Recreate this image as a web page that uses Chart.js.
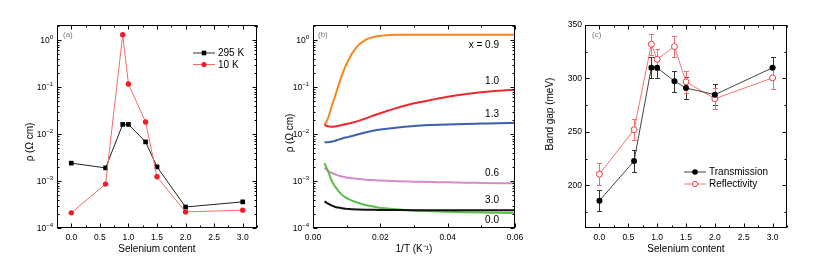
<!DOCTYPE html>
<html>
<head>
<meta charset="utf-8">
<script src="https://cdn.jsdelivr.net/npm/chart.js@4.4.0/dist/chart.umd.min.js"></script>
<style>
  html, body { margin: 0; padding: 0; background: #fff; }
  #fig { position: relative; width: 830px; height: 269px; }
  canvas { position: absolute; top: 0; }
</style>
</head>
<body>
<div id="fig">
  <canvas id="ca" width="278" height="269" style="left:0"></canvas>
  <canvas id="cb" width="262" height="269" style="left:278px"></canvas>
  <canvas id="cc" width="290" height="269" style="left:540px"></canvas>
</div>
<script>
// Dados
const selenio = [0, 0.6, 0.9, 1.0, 1.3, 1.5, 2.0, 3.0];
const rho295 = [2.4e-3, 1.9e-3, 1.6e-2, 1.6e-2, 6.8e-3, 2.0e-3, 2.8e-4, 3.6e-4];
const rho10 = [2.1e-4, 8.6e-4, 1.3, 0.116, 0.018, 1.23e-3, 2.2e-4, 2.4e-4];

// painel (b): rho vs 1/T
const invT = [0.0034, 0.0045, 0.0056, 0.0066, 0.0076, 0.0086, 0.0096, 0.0106, 0.0116, 0.0135, 0.0155,
  0.0175, 0.0195, 0.022, 0.025, 0.03, 0.035, 0.04, 0.045, 0.05, 0.055, 0.06];
const rhoX09 = [0.0155, 0.022, 0.040, 0.065, 0.11, 0.18, 0.27, 0.38, 0.52, 0.78, 1.0,
  1.14, 1.22, 1.27, 1.29, 1.3, 1.3, 1.3, 1.3, 1.3, 1.3, 1.3];
const rhoX10 = [0.0155, 0.0147, 0.0143, 0.0145, 0.0150, 0.0156, 0.0162, 0.0168, 0.0174, 0.019, 0.0213,
  0.024, 0.027, 0.031, 0.036, 0.045, 0.053, 0.062, 0.070, 0.077, 0.083, 0.088];
const rhoX13 = [0.0067, 0.0067, 0.0069, 0.0072, 0.0076, 0.0080, 0.0084, 0.0087, 0.0091, 0.0099, 0.0108,
  0.0116, 0.0123, 0.0130, 0.0137, 0.0148, 0.0155, 0.0160, 0.0164, 0.0167, 0.0170, 0.0172];
const rhoX06 = [0.0019, 0.00165, 0.00148, 0.00138, 0.0013, 0.00125, 0.0012, 0.00117, 0.00114, 0.0011, 0.00107,
  0.00105, 0.00103, 0.00101, 0.00099, 0.00097, 0.00095, 0.00094, 0.00092, 0.00091, 0.0009, 0.00089];
const rhoX00 = [0.0024, 0.0016, 0.0010, 0.00076, 0.00061, 0.00051, 0.00045, 0.00041, 0.00038, 0.00034, 0.00031,
  0.00029, 0.00027, 0.00026, 0.00025, 0.000235, 0.000228, 0.000222, 0.000217, 0.000213, 0.00021, 0.000207];
const rhoX30 = [0.00037, 0.00033, 0.00030, 0.00028, 0.000272, 0.000264, 0.000258, 0.000254, 0.00025, 0.000247, 0.000245,
  0.000244, 0.000243, 0.000242, 0.000241, 0.00024, 0.00024, 0.00024, 0.00024, 0.00024, 0.00024, 0.00024];

// painel (c): band gap
const gapTrans = [185.5, 222.7, 310, 310, 297.4, 291, 284.8, 310];
const gapRefl = [210.4, 252, 332, 317.9, 329.8, 296.8, 281, 300.5];
const gapErro = 10;

// ticks
const ticksSel = [0, 0.5, 1.0, 1.5, 2.0, 2.5, 3.0];
const ticksInvT = [0, 0.02, 0.04, 0.06];
const ticksGap = [200, 250, 300, 350];
const expoentes = [0, -1, -2, -3, -4];

const FONTE = '"Liberation Sans", Arial, sans-serif';
Chart.defaults.font.family = FONTE;
Chart.defaults.color = '#000';

function pontos(xs, ys) {
  return xs.map((x, i) => ({ x: x, y: ys[i] }));
}

function minorLog(min, max) {
  const v = [];
  for (let e = -5; e <= 1; e++) {
    for (let m = 1; m <= 9; m++) {
      const val = m * Math.pow(10, e);
      if (val >= min && val <= max) v.push({ v: val, major: m === 1 });
    }
  }
  return v;
}

function minorLin(min, max, passo, major) {
  const v = [];
  const n0 = Math.ceil(min / passo - 1e-9), n1 = Math.floor(max / passo + 1e-9);
  for (let n = n0; n <= n1; n++) {
    const val = n * passo;
    v.push({ v: val, major: Math.abs(val / major - Math.round(val / major)) < 1e-6 });
  }
  return v;
}

// moldura, ticks para dentro, legendas e textos
const moldura = {
  id: 'moldura',
  afterDatasetsDraw(chart, args, opts) {
    const ctx = chart.ctx, a = chart.chartArea, sx = chart.scales.x, sy = chart.scales.y;
    ctx.save();
    ctx.strokeStyle = '#000';
    ctx.lineWidth = 1;
    const L = Math.round(a.left) + 0.5, R = Math.round(a.right) - 0.5;
    const T = Math.round(a.top) + 0.5, B = Math.round(a.bottom) - 0.5;
    ctx.strokeRect(L, T, R - L, B - T);
    ctx.beginPath();
    opts.xt.forEach(t => {
      const p = Math.round(sx.getPixelForValue(t.v)) + 0.5;
      const len = t.major ? 4 : 2;
      ctx.moveTo(p, B); ctx.lineTo(p, B - len);
      ctx.moveTo(p, T); ctx.lineTo(p, T + len);
    });
    opts.yt.forEach(t => {
      const p = Math.round(sy.getPixelForValue(t.v)) + 0.5;
      const len = t.major ? 4 : 2;
      ctx.moveTo(L, p); ctx.lineTo(L + len, p);
      ctx.moveTo(R, p); ctx.lineTo(R - len, p);
    });
    ctx.stroke();

    // rótulos log
    if (opts.logLabels) {
      ctx.fillStyle = '#000';
      ctx.textBaseline = 'middle';
      opts.logLabels.forEach(e => {
        const p = sy.getPixelForValue(Math.pow(10, e));
        ctx.font = '6px ' + FONTE;
        ctx.textAlign = 'right';
        const ex = String(e).replace('-', '\u2212');
        const wEx = ctx.measureText(ex).width;
        ctx.fillText(ex, a.left - 4, p - 3);
        ctx.font = '8.5px ' + FONTE;
        ctx.fillText('10', a.left - 4 - wEx, p + 1);
      });
    }

    // título do eixo y (rodado)
    if (opts.tituloY) {
      const t = opts.tituloY;
      ctx.save();
      ctx.translate(t.x, t.y);
      ctx.rotate(-Math.PI / 2);
      ctx.font = '10px ' + FONTE;
      ctx.fillStyle = '#000';
      ctx.textAlign = 'center';
      ctx.textBaseline = 'middle';
      ctx.fillText(t.text, 0, 0);
      ctx.restore();
    }

    // textos
    (opts.textos || []).forEach(t => {
      ctx.font = (t.size || 10) + 'px ' + FONTE;
      ctx.fillStyle = t.color || '#000';
      ctx.textAlign = t.align || 'left';
      ctx.textBaseline = 'middle';
      ctx.fillText(t.text, t.x, t.y);
    });

    // legenda
    (opts.legenda || []).forEach(l => {
      ctx.strokeStyle = l.line;
      ctx.lineWidth = 1;
      ctx.beginPath();
      ctx.moveTo(l.x, l.y); ctx.lineTo(l.x + 22, l.y);
      ctx.stroke();
      const mx = l.x + 11;
      ctx.beginPath();
      if (l.marker === 'rect') {
        ctx.rect(mx - 2.3, l.y - 2.3, 4.6, 4.6);
      } else {
        ctx.arc(mx, l.y, l.r || 2.6, 0, Math.PI * 2);
      }
      ctx.fillStyle = l.fill;
      ctx.fill();
      if (l.stroke) { ctx.strokeStyle = l.stroke; ctx.stroke(); }
      ctx.font = '10px ' + FONTE;
      ctx.fillStyle = '#000';
      ctx.textAlign = 'left';
      ctx.textBaseline = 'middle';
      ctx.fillText(l.label, l.x + 25, l.y + 0.5);
    });
    ctx.restore();
  }
};

// barras de erro do painel (c)
const barrasErro = {
  id: 'barrasErro',
  beforeDatasetsDraw(chart, args, opts) {
    if (!opts.series) return;
    const ctx = chart.ctx, sx = chart.scales.x, sy = chart.scales.y;
    ctx.save();
    ctx.lineWidth = 1;
    opts.series.forEach(s => {
      ctx.strokeStyle = s.color;
      ctx.beginPath();
      s.x.forEach((xv, i) => {
        const px = Math.round(sx.getPixelForValue(xv)) + 0.5;
        const y1 = Math.round(sy.getPixelForValue(s.y[i] - s.err)) + 0.5;
        const y2 = Math.round(sy.getPixelForValue(s.y[i] + s.err)) + 0.5;
        ctx.moveTo(px, y1); ctx.lineTo(px, y2);
        ctx.moveTo(px - 2.5, y1); ctx.lineTo(px + 2.5, y1);
        ctx.moveTo(px - 2.5, y2); ctx.lineTo(px + 2.5, y2);
      });
      ctx.stroke();
    });
    ctx.restore();
  }
};

function eixoX(min, max, ticks, casas, titulo) {
  return {
    type: 'linear', min: min, max: max,
    afterBuildTicks: s => { s.ticks = ticks.map(v => ({ value: v })); },
    afterFit: s => { s.height = 41; },
    grid: { display: false, drawTicks: false },
    border: { display: false },
    ticks: { font: { size: 8.5 }, padding: 5, maxRotation: 0, autoSkip: false,
      callback: v => Number(v).toFixed(casas) },
    title: { display: true, text: titulo, font: { size: 10 }, padding: { top: 0, bottom: 14 } }
  };
}

function eixoYLog(largura) {
  return {
    type: 'logarithmic', min: 1e-4, max: Math.pow(10, 0.32),
    afterFit: s => { s.width = largura; },
    grid: { display: false, drawTicks: false }, border: { display: false },
    ticks: { display: false }
  };
}

function criarGrafico(id, direita, datasets, escalas, plugOpts) {
  return new Chart(document.getElementById(id), {
    type: 'scatter',
    data: { datasets: datasets },
    options: {
      responsive: false,
      animation: false,
      devicePixelRatio: 1,
      layout: { padding: { left: 0, top: 25, right: direita, bottom: 0 } },
      scales: escalas,
      plugins: Object.assign({ legend: { display: false }, tooltip: { enabled: false } }, plugOpts)
    },
    plugins: [barrasErro, moldura]
  });
}

const yLogMax = Math.pow(10, 0.32);

// painel (a)
criarGrafico('ca', 21, [
  { data: pontos(selenio, rho10), showLine: true, borderColor: '#f26b6b', borderWidth: 1,
    pointRadius: 2.7, pointBackgroundColor: '#ee1c25', pointBorderWidth: 0 },
  { data: pontos(selenio, rho295), showLine: true, borderColor: '#222', borderWidth: 1,
    pointStyle: 'rect', pointRadius: 3.3, pointBackgroundColor: '#000', pointBorderWidth: 0 }
], {
  x: eixoX(-0.25, 3.25, ticksSel, 1, 'Selenium content'),
  y: eixoYLog(57)
}, {
  moldura: {
    xt: minorLin(-0.25, 3.25, 0.25, 0.5), yt: minorLog(1e-4, yLogMax), logLabels: expoentes,
    tituloY: { text: 'ρ (Ω cm)', x: 30, y: 142 },
    textos: [{ text: '(a)', x: 63, y: 35, size: 8, color: '#777' }],
    legenda: [
      { x: 193, y: 53, label: '295 K', line: '#333', marker: 'rect', fill: '#000' },
      { x: 193, y: 64.5, label: '10 K', line: '#f26b6b', marker: 'circle', fill: '#ee1c25' }
    ]
  }
});

// painel (b)
const curvaB = (ys, cor) => ({ data: pontos(invT, ys), showLine: true, borderColor: cor, borderWidth: 2,
  pointRadius: 0, cubicInterpolationMode: 'monotone' });
criarGrafico('cb', 25, [
  curvaB(rhoX30, '#111111'),
  curvaB(rhoX00, '#5cbf4a'),
  curvaB(rhoX06, '#d68bc9'),
  curvaB(rhoX13, '#3f5fb0'),
  curvaB(rhoX10, '#ea2a2f'),
  curvaB(rhoX09, '#f7861e')
], {
  x: eixoX(0, 0.06, ticksInvT, 2, '1/T (K\u207B\u00B9)'),
  y: eixoYLog(35)
}, {
  moldura: {
    xt: minorLin(0, 0.06, 0.01, 0.02), yt: minorLog(1e-4, yLogMax), logLabels: expoentes,
    tituloY: { text: 'ρ (Ω cm)', x: 12, y: 133 },
    textos: [
      { text: '(b)', x: 40, y: 35, size: 8, color: '#777' },
      { text: 'x = 0.9', x: 221, y: 45, align: 'right' },
      { text: '1.0', x: 221, y: 81, align: 'right' },
      { text: '1.3', x: 221, y: 114, align: 'right' },
      { text: '0.6', x: 221, y: 173, align: 'right' },
      { text: '3.0', x: 221, y: 200, align: 'right' },
      { text: '0.0', x: 221, y: 220, align: 'right' }
    ]
  }
});

// painel (c)
criarGrafico('cc', 43, [
  { data: pontos(selenio, gapTrans), showLine: true, borderColor: '#444', borderWidth: 1,
    pointRadius: 3, pointBackgroundColor: '#000', pointBorderWidth: 0 },
  { data: pontos(selenio, gapRefl), showLine: true, borderColor: '#f07575', borderWidth: 1,
    pointRadius: 3, pointBackgroundColor: '#fff', pointBorderColor: '#ee3b3b', pointBorderWidth: 1 }
], {
  x: eixoX(-0.25, 3.25, ticksSel, 1, 'Selenium content'),
  y: { type: 'linear', min: 160, max: 350,
    afterBuildTicks: s => { s.ticks = ticksGap.map(v => ({ value: v })); },
    afterFit: s => { s.width = 45; },
    grid: { display: false, drawTicks: false }, border: { display: false },
    ticks: { font: { size: 8.5 }, padding: 3 } }
}, {
  barrasErro: { series: [
    { x: selenio, y: gapTrans, err: gapErro, color: '#333' },
    { x: selenio, y: gapRefl, err: gapErro, color: '#f07070' }
  ] },
  moldura: {
    xt: minorLin(-0.25, 3.25, 0.25, 0.5), yt: minorLin(160, 350, 25, 50),
    tituloY: { text: 'Band gap (meV)', x: 10, y: 114 },
    textos: [{ text: '(c)', x: 52, y: 35, size: 8, color: '#777' }],
    legenda: [
      { x: 144, y: 172, label: 'Transmission', line: '#444', marker: 'circle', fill: '#000', r: 2.8 },
      { x: 144, y: 184, label: 'Reflectivity', line: '#f07575', marker: 'circle', fill: '#fff', stroke: '#ee3b3b', r: 2.6 }
    ]
  }
});
</script>
</body>
</html>
